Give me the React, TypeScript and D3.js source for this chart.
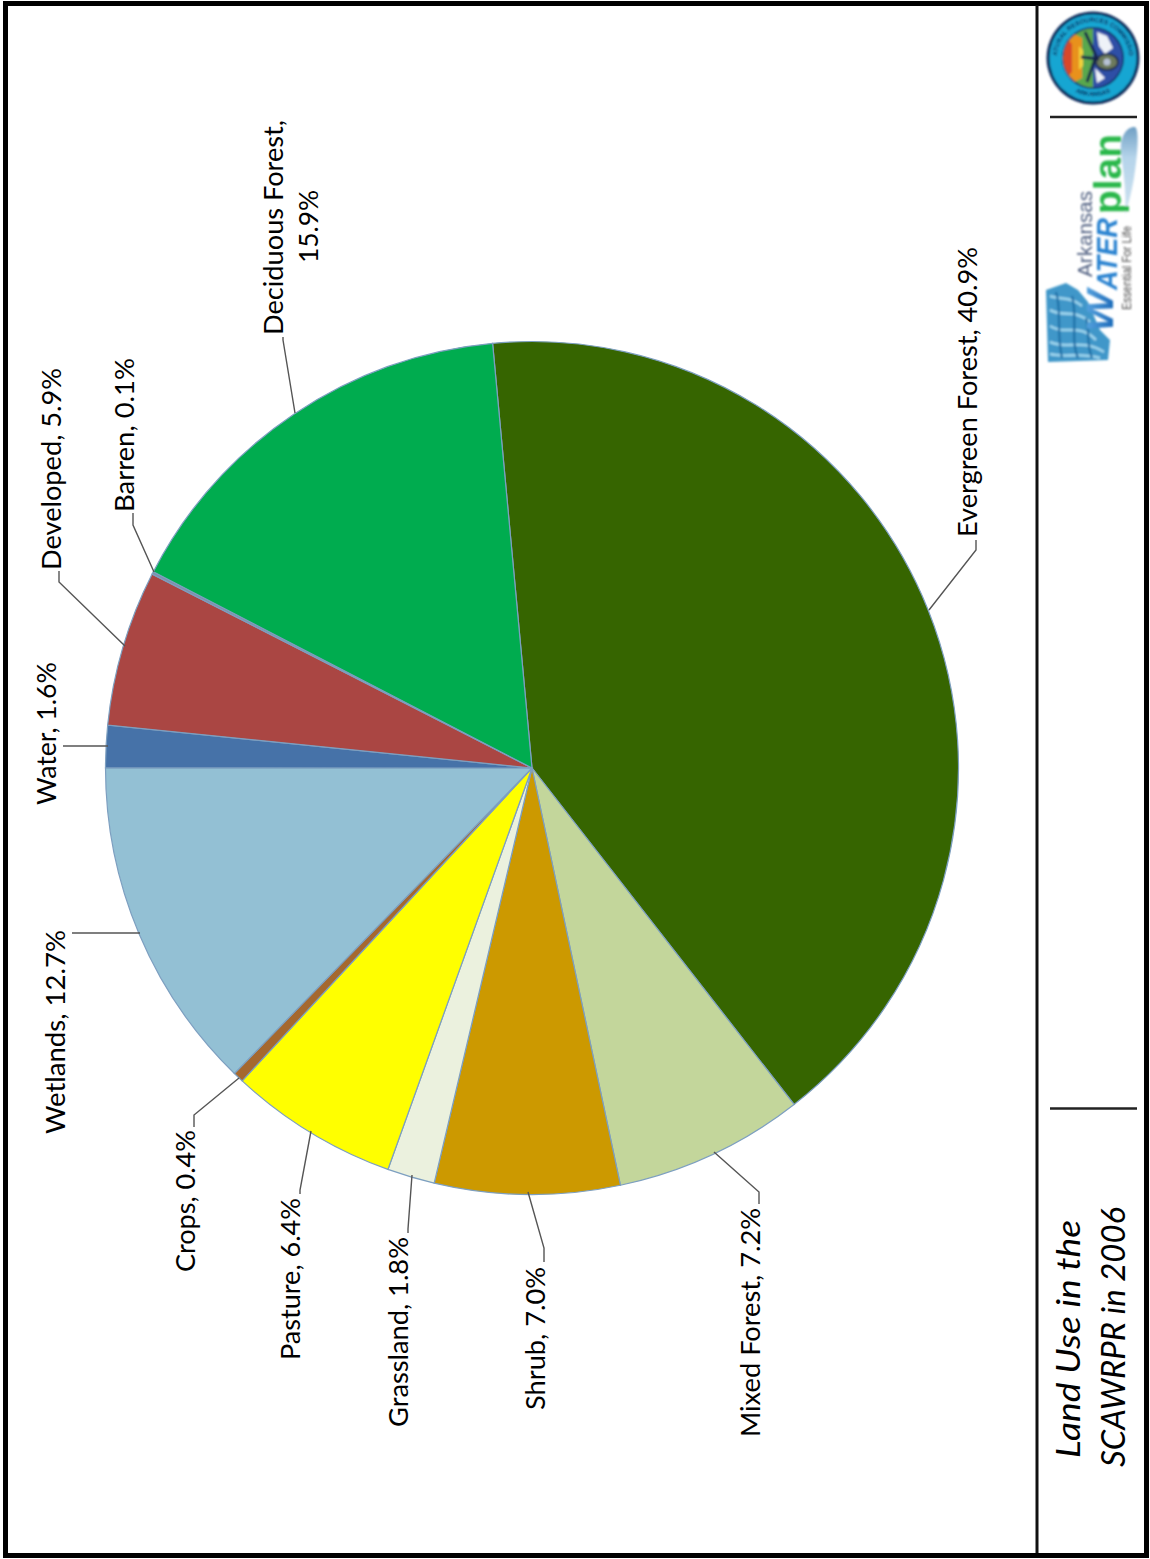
import React from "react";
import * as d3 from "d3";

// Land-use shares, clockwise from the top of the pie.
const landUses = ["Evergreen Forest", "Mixed Forest", "Shrub", "Grassland", "Pasture", "Crops", "Wetlands", "Water", "Developed", "Barren", "Deciduous Forest"];
const shares = [40.9, 7.2, 7.0, 1.8, 6.4, 0.4, 12.7, 1.6, 5.9, 0.1, 15.9];
const sliceColors = ["#366500", "#c3d69b", "#cc9900", "#ebf1de", "#ffff00", "#a5682f", "#93c0d4", "#4672a8", "#aa4643", "#7f8fa8", "#00ac4f"];

// Leader routes and rotated label placement, keyed by land use.
const leaders: Record<string, number[][]> = {
  "Evergreen Forest": [[929, 610], [976, 550], [976, 540]],
  "Mixed Forest": [[714, 1152], [759, 1192], [759, 1204]],
  Shrub: [[528, 1192], [544, 1248], [544, 1262]],
  Grassland: [[412, 1175], [408, 1229], [408, 1233]],
  Pasture: [[311, 1131], [300, 1190], [300, 1194]],
  Crops: [[239, 1078], [194, 1115], [194, 1127]],
  Wetlands: [[140, 933], [72, 933]],
  Water: [[108, 746], [63, 746]],
  Developed: [[125, 646], [59, 582], [59, 571]],
  Barren: [[154, 572], [133, 525], [133, 513]],
  "Deciduous Forest": [[295, 413], [283, 340], [283, 337]],
};
const labelSpots: [string, number, number, number][] = [
  ["Evergreen Forest, 40.9%", 977, 537, 290],
  ["Mixed Forest, 7.2%", 760, 1437, 229],
  ["Shrub, 7.0%", 545, 1410, 143],
  ["Grassland, 1.8%", 408, 1427, 190],
  ["Pasture, 6.4%", 300, 1360, 162],
  ["Crops, 0.4%", 195, 1272, 142],
  ["Wetlands, 12.7%", 65, 1134, 204],
  ["Water, 1.6%", 56, 805, 143],
  ["Developed, 5.9%", 61, 570, 202],
  ["Barren, 0.1%", 134, 512, 154],
  ["Deciduous Forest,", 283, 335, 215],
  ["15.9%", 318, 263, 73],
];

const bodyFont = "Lato, Carlito, sans-serif";
const logoFont = "'Liberation Sans', sans-serif";

function RotatedText({ x, y, size, len, children, ...rest }: any) {
  return (
    <text transform={`translate(${x},${y}) rotate(-90)`} fontSize={size} textLength={len} lengthAdjust="spacingAndGlyphs" fontFamily={bodyFont} {...rest}>
      {children}
    </text>
  );
}

// Commission seal: navy rim, teal lettered ring, landscape disc.
function Seal() {
  const wedge = (a0: number, a1: number, r: number) =>
    d3.arc()({ innerRadius: 0, outerRadius: r, startAngle: (a0 * Math.PI) / 180, endAngle: (a1 * Math.PI) / 180 }) as string;
  return (
    <g transform="translate(1093,58)" filter="url(#soft)">
      <circle r={46.5} fill="#0b2c5c" />
      <circle r={43.5} fill="#18a6d2" />
      <path id="ringTop" d="M-36,0 A36,36 0 0 1 36,0" fill="none" />
      <path id="ringBottom" d="M-38,8 A39,39 0 0 0 38,8" fill="none" />
      <text fontSize={6.5} fontWeight={700} fontFamily={logoFont} fill="#0b2c5c">
        <textPath href="#ringTop" startOffset="50%" textAnchor="middle">NATURAL RESOURCES COMMISSION</textPath>
      </text>
      <text fontSize={6.5} fontWeight={700} fontFamily={logoFont} fill="#0b2c5c">
        <textPath href="#ringBottom" startOffset="50%" textAnchor="middle">ARKANSAS</textPath>
      </text>
      <circle r={31} fill="#0f2f66" />
      <path d={wedge(-180, 0, 29.5)} fill="#5aa84e" />
      <path d={wedge(0, 180, 29.5)} fill="#2d4fa6" />
      <path d="M-18,-23.5 A29.5,29.5 0 0 0 -18,23.5 L-11,20 L-11,-20 Z" fill="#e8911f" />
      <path d="M-24,-17 A29.5,29.5 0 0 0 -24,17 L-21,14 L-21,-14 Z" fill="#d8472b" />
      <path d="M-14,-12 L-14,12 L-10,8 L-10,-8 Z" fill="#f2d13a" />
      <path d="M4,-26 L14,-22 L20,-10 L12,-4 L6,-12 Z" fill="#eef2f8" />
      <path d="M2,10 L12,20 L4,25 Z" fill="#eef2f8" />
      <ellipse cx={14} cy={4} rx={11} ry={8} fill="#6d7a5c" stroke="#24304f" strokeWidth={2} />
      <circle cx={14} cy={4} r={3.5} fill="#b7c2d6" />
      <path d="M-8,-26 L3,-2 L-6,24 M-12,-1 L6,1" stroke="#18254a" strokeWidth={3} fill="none" />
    </g>
  );
}

// Arkansas Water Plan mark: textured state map, droplet and stacked wordmark.
function WaterPlanLogo() {
  return (
    <g>
      <defs>
        <linearGradient id="dropFill" x1="0" x2="0" y1="0" y2="1">
          <stop offset="0" stopColor="#6f9fc4" />
          <stop offset="0.35" stopColor="#b5d4ea" />
          <stop offset="1" stopColor="#cfe2f0" />
        </linearGradient>
        <linearGradient id="waterFill" x1="0" x2="0" y1="0" y2="1">
          <stop offset="0" stopColor="#62aee6" />
          <stop offset="1" stopColor="#0e5cb0" />
        </linearGradient>
      </defs>
      <g filter="url(#soft)">
        <path d="M1046,290 L1066,283 L1078,290 L1088,302 L1100,330 L1110,340 L1108,360 L1048,362 Z" fill="#3f97c9" />
        <path d="M1050,296 C1060,300 1070,296 1082,306 M1050,310 C1064,318 1074,308 1090,322 M1050,326 C1066,336 1078,322 1096,340 M1050,342 C1066,350 1082,338 1104,352 M1050,354 C1066,358 1080,352 1100,358" stroke="#9fd6ee" strokeWidth={2.6} fill="none" />
        <path d="M1056,292 C1062,310 1056,330 1062,358 M1072,296 C1078,316 1070,340 1078,358 M1086,318 C1090,330 1086,344 1092,358" stroke="#1f6fa6" strokeWidth={2.2} fill="none" />
        <path d="M1125,215 C1127,190 1122,165 1121,150 C1120,135 1128,126 1135,127 C1140,130 1137,160 1134,178 C1131,195 1128,205 1125,215 Z" fill="url(#dropFill)" />
        <text transform="translate(1121,214) rotate(-90)" fontSize={39} fontWeight={700} fontFamily={logoFont} fill="#2cb84c" textLength={80} lengthAdjust="spacingAndGlyphs">plan</text>
        <text transform="translate(1092,277) rotate(-90)" fontSize={21} fontFamily={logoFont} fill="#4f5f80" textLength={86} lengthAdjust="spacingAndGlyphs">Arkansas</text>
        <text transform="translate(1113,332) rotate(-90)" fontSize={36} fontWeight={700} fontStyle="italic" fontFamily={logoFont} fill="url(#waterFill)" textLength={42} lengthAdjust="spacingAndGlyphs">W</text>
        <text transform="translate(1117,290) rotate(-90)" fontSize={30} fontWeight={700} fontStyle="italic" fontFamily={logoFont} fill="#2b83d0" textLength={72} lengthAdjust="spacingAndGlyphs">ATER</text>
        <text transform="translate(1131,310) rotate(-90)" fontSize={12} fontFamily={logoFont} fill="#4a4a4a" textLength={84} lengthAdjust="spacingAndGlyphs">Essential For Life</text>
      </g>
    </g>
  );
}

export default function App() {
  const center = [532, 768];
  const radius = 426.5;
  const startAngle = (-5.3 * Math.PI) / 180;
  const pie = d3.pie<number>().sort(null).startAngle(startAngle).endAngle(startAngle + 2 * Math.PI);
  const arc = d3.arc<d3.PieArcDatum<number>>().innerRadius(0).outerRadius(radius);
  const line = d3.line();
  const slices = pie(shares);

  return (
    <svg width={1150} height={1559} viewBox="0 0 1150 1559" style={{ position: "absolute", left: 0, top: 0, display: "block" }}>
      <defs>
        <filter id="soft" x="-10%" y="-10%" width="120%" height="120%"><feGaussianBlur stdDeviation={0.8} /></filter>
      </defs>
      <rect width={1150} height={1559} fill="#fff" />
      <rect x={5.5} y={3.5} width={1141} height={1552} fill="none" stroke="#000" strokeWidth={5} />
      <line x1={1037} x2={1037} y1={5} y2={1553} stroke="#111" strokeWidth={3} />
      <line x1={1050} x2={1137} y1={117} y2={117} stroke="#222" strokeWidth={2.4} />
      <line x1={1050} x2={1137} y1={1108.5} y2={1108.5} stroke="#222" strokeWidth={2.4} />

      <g transform={`translate(${center[0]},${center[1]})`}>
        {slices.map((s, i) => (
          <path key={landUses[i]} d={arc(s) as string} fill={sliceColors[i]} stroke="#7d9fc0" strokeWidth={1.2} />
        ))}
      </g>

      {landUses.map((name) => (
        <path key={name} d={line(leaders[name] as [number, number][]) as string} fill="none" stroke="#555" strokeWidth={1.4} />
      ))}

      {labelSpots.map(([text, x, y, len]) => (
        <RotatedText key={text} x={x} y={y} size={26.5} len={len} fill="#000">{text}</RotatedText>
      ))}

      <RotatedText x={1080} y={1458} size={33} len={238} fontStyle="italic" fill="#000">Land Use in the</RotatedText>
      <RotatedText x={1125} y={1467} size={33} len={260} fontStyle="italic" fill="#000">SCAWRPR in 2006</RotatedText>

      <Seal />
      <WaterPlanLogo />
    </svg>
  );
}
